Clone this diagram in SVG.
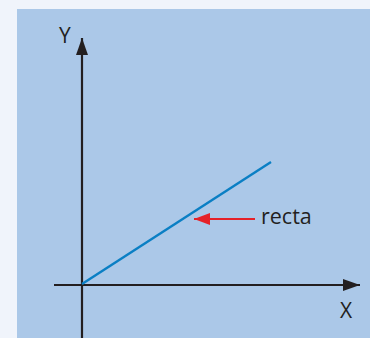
<svg xmlns="http://www.w3.org/2000/svg" width="370" height="338" viewBox="0 0 370 338">
<style>
.axis{stroke:#231f20;stroke-width:2.2;fill:none}
.lbl{font-family:"Open Sans","DejaVu Sans",sans-serif;fill:#231f20}
</style>
<defs>
<marker id="ah" markerUnits="userSpaceOnUse" markerWidth="18" markerHeight="14" refX="17" refY="6" orient="auto" viewBox="0 0 18 12"><path d="M0,0 L17,6 L0,12 Z" fill="#231f20"/></marker>
<marker id="rh" markerUnits="userSpaceOnUse" markerWidth="17" markerHeight="13" refX="16" refY="6" orient="auto" viewBox="0 0 17 12"><path d="M0,0 L16,6 L0,12 Z" fill="#e52229"/></marker>
</defs>
<rect width="370" height="338" fill="#f0f4fb"/>
<rect x="17" y="9" width="353" height="329" fill="#abc8e8"/>
<g id="connectors">
<line class="axis" x1="82" y1="338" x2="82" y2="38" marker-end="url(#ah)"/>
<line class="axis" x1="54" y1="285" x2="360" y2="285" marker-end="url(#ah)"/>
<line x1="82" y1="284" x2="271" y2="162" stroke="#0a7fc4" stroke-width="2.4"/>
<line x1="255" y1="219" x2="194" y2="219" stroke="#e52229" stroke-width="2.2" marker-end="url(#rh)"/>
</g>
<g id="label-y"><text class="lbl" x="59" y="43" font-size="21">Y</text></g>
<g id="label-x"><text class="lbl" x="340" y="318" font-size="21">X</text></g>
<g id="label-recta"><text class="lbl" x="261" y="224" font-size="21.5">recta</text></g>
</svg>
